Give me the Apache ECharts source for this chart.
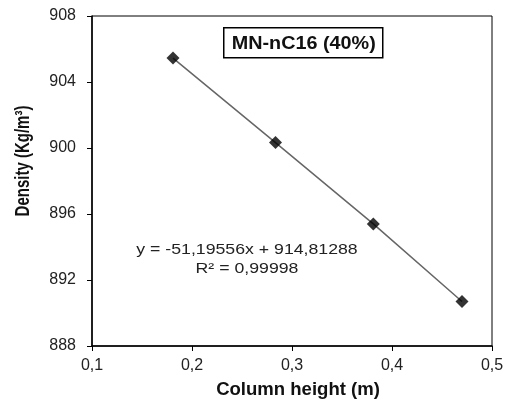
<!DOCTYPE html>
<html>
<head>
<meta charset="utf-8">
<script src="https://cdn.jsdelivr.net/npm/echarts@6/dist/echarts.min.js"></script>
<style>
  html, body { margin: 0; padding: 0; background: #fff; }
  #chart { width: 513px; height: 400px; }
</style>
</head>
<body>
<div id="chart"></div>
<script>
// column height (m) vs density (kg/m3)
const heights = [0.181, 0.2835, 0.3813, 0.470]
const densities = [905.45, 900.33, 895.4, 890.7]
const xTicks = { min: 0.1, max: 0.5, interval: 0.1 }
const yTicks = { min: 888, max: 908, interval: 4 }
const seriesName = 'MN-nC16 (40%)'
const eqLines = ['y = -51,19556x + 914,81288', 'R² = 0,99998']

const font = 'Liberation Sans, Arial, sans-serif'
const points = heights.map((h, i) => [h, densities[i]])

const chart = echarts.init(document.getElementById('chart'))

chart.setOption({
  animation: false,
  grid: {
    left: 92,
    right: 21,
    top: 16,
    bottom: 54,
    show: true,
    borderColor: '#000',
    borderWidth: 1,
  },
  xAxis: {
    type: 'value',
    min: xTicks.min,
    max: xTicks.max,
    interval: xTicks.interval,
    splitLine: { show: false },
    axisLine: { show: true, lineStyle: { color: '#000', width: 1.5 } },
    axisTick: { show: true, inside: false, length: 5, lineStyle: { color: '#000' } },
    axisLabel: {
      margin: 12,
      color: '#222',
      fontSize: 16,
      fontFamily: font,
      formatter: (v) => v.toFixed(1).replace('.', ','),
    },
  },
  yAxis: {
    type: 'value',
    min: yTicks.min,
    max: yTicks.max,
    interval: yTicks.interval,
    splitLine: { show: false },
    axisLine: { show: true, lineStyle: { color: '#000', width: 1.5 } },
    axisTick: { show: true, inside: false, length: 5, lineStyle: { color: '#000' } },
    axisLabel: {
      margin: 16,
      color: '#222',
      fontSize: 16,
      fontFamily: font,
    },
  },
  series: [
    {
      // trend line
      type: 'line',
      data: points,
      symbol: 'none',
      lineStyle: { color: '#666', width: 1.5 },
      z: 2,
    },
    {
      name: seriesName,
      type: 'scatter',
      data: points,
      symbol: 'diamond',
      symbolSize: 13,
      itemStyle: { color: '#000' },
      z: 3,
    },
  ],
  graphic: [
    {
      type: 'group',
      left: 223,
      top: 27,
      children: [
        {
          type: 'rect',
          shape: { x: 0, y: 0, width: 159, height: 30 },
          style: { fill: '#fff', stroke: '#000', lineWidth: 1.5 },
        },
        {
          type: 'text',
          x: 80,
          y: 16,
          scaleX: 1.1,
          style: {
            text: seriesName,
            font: 'bold 18px ' + font,
            fill: '#111',
            align: 'center',
            verticalAlign: 'middle',
          },
        },
      ],
    },
    {
      type: 'text',
      x: 247,
      y: 250,
      scaleX: 1.18,
      style: { text: eqLines[0], font: '15px ' + font, fill: '#222', align: 'center', verticalAlign: 'middle' },
    },
    {
      type: 'text',
      x: 247,
      y: 269,
      scaleX: 1.18,
      style: { text: eqLines[1], font: '15px ' + font, fill: '#222', align: 'center', verticalAlign: 'middle' },
    },
    {
      type: 'text',
      x: 24,
      y: 161,
      rotation: Math.PI / 2,
      scaleY: 1.3,
      style: {
        text: 'Density (Kg/m³)',
        font: 'bold 15px ' + font,
        fill: '#111',
        align: 'center',
        verticalAlign: 'middle',
      },
    },
    {
      type: 'text',
      x: 298,
      y: 390,
      scaleX: 1.03,
      style: {
        text: 'Column height (m)',
        font: 'bold 18px ' + font,
        fill: '#111',
        align: 'center',
        verticalAlign: 'middle',
      },
    },
  ],
})
</script>
</body>
</html>
